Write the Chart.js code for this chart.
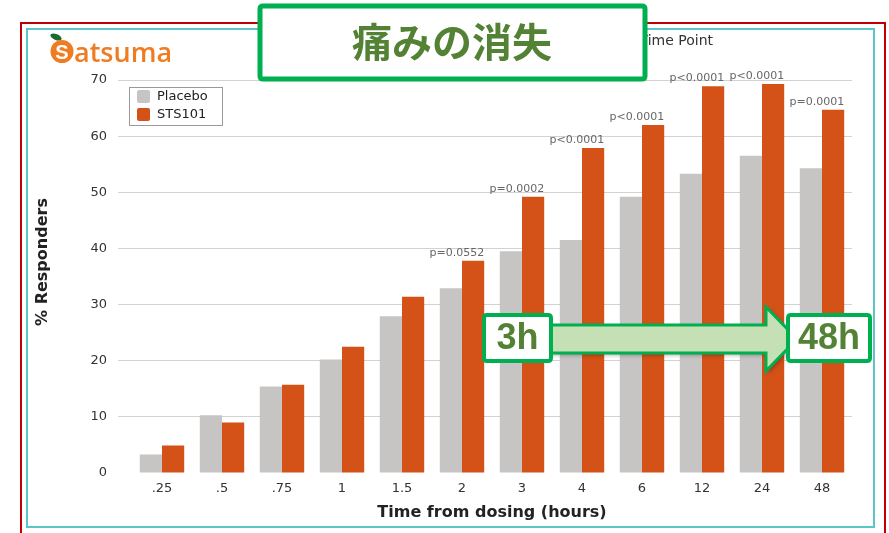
<!DOCTYPE html>
<html lang="ja">
<head>
<meta charset="utf-8">
<title>痛みの消失</title>
<script src="https://cdn.jsdelivr.net/npm/chart.js@4.4.1/dist/chart.umd.min.js"></script>
<style>
  html, body { margin:0; padding:0; background:#ffffff; }
  #wrap { width:889px; height:533px; position:relative; }
</style>
</head>
<body>
<div id="wrap"><canvas id="chart" width="889" height="533"></canvas></div>
<script>
/* =====================================================
   DATA
===================================================== */

const timeLabels = [".25",".5",".75","1","1.5","2","3","4","6","12","24","48"];

const placeboValues = [3.3,10.3,15.4,20.2,27.9,32.9,39.5,41.5,49.2,53.3,56.5,54.3];

const sts101Values = [4.9,9.0,15.7,22.5,31.4,37.8,49.2,57.9,62.0,68.9,69.3,64.7];

const pValues = [
  null,null,null,null,null,
  "p=0.0552","p=0.0002","p<0.0001","p<0.0001",
  "p<0.0001","p<0.0001","p=0.0001"
];

const yTicks = [0,10,20,30,40,50,60,70];

const seriesNames = ["Placebo","STS101"];


/* =====================================================
   COLOURS / FONTS
===================================================== */

const GREY = "#c6c5c4";
const ORANGE = "#d45118";
const GREEN = "#00b050";
const DARK_GREEN = "#548235";
const FONT = "'DejaVu Sans', Verdana, sans-serif";
const BOX_FONT = "'Liberation Sans', Arial, sans-serif";

Chart.defaults.font.family = FONT;
Chart.defaults.color = "#333333";


/* =====================================================
   HELPERS
===================================================== */

function roundBox(ctx, x, y, w, h, r){
  ctx.beginPath();
  ctx.moveTo(x + r, y);
  ctx.lineTo(x + w - r, y);
  ctx.quadraticCurveTo(x + w, y, x + w, y + r);
  ctx.lineTo(x + w, y + h - r);
  ctx.quadraticCurveTo(x + w, y + h, x + w - r, y + h);
  ctx.lineTo(x + r, y + h);
  ctx.quadraticCurveTo(x, y + h, x, y + h - r);
  ctx.lineTo(x, y + r);
  ctx.quadraticCurveTo(x, y, x + r, y);
  ctx.closePath();
}

function labelBox(ctx, x, y, w, h, text, font){
  ctx.save();
  roundBox(ctx, x, y, w, h, 3);
  ctx.fillStyle = "#ffffff";
  ctx.fill();
  ctx.lineWidth = 4;
  ctx.strokeStyle = GREEN;
  ctx.stroke();
  ctx.fillStyle = DARK_GREEN;
  ctx.font = font;
  ctx.textAlign = "center";
  ctx.textBaseline = "middle";
  ctx.fillText(text, x + w / 2, y + h / 2 + 1);
  ctx.restore();
}


/* =====================================================
   SLIDE DECORATION PLUGIN
===================================================== */

const slidePlugin = {
  id: "slide",

  beforeDraw(chart){
    const ctx = chart.ctx;
    ctx.save();
    ctx.fillStyle = "#ffffff";
    ctx.fillRect(0, 0, chart.width, chart.height);
    ctx.lineWidth = 2;
    ctx.strokeStyle = "#c00000";
    ctx.strokeRect(21, 23, 864, 520);
    ctx.strokeStyle = "#5cc6c6";
    ctx.strokeRect(27, 29, 847, 498);
    ctx.restore();
  },

  afterDraw(chart){
    const ctx = chart.ctx;
    const orangeMeta = chart.getDatasetMeta(1);

    ctx.save();

    // p-value labels above the STS101 bars
    ctx.font = "11px " + FONT;
    ctx.fillStyle = "#666666";
    ctx.textAlign = "right";
    ctx.textBaseline = "alphabetic";
    pValues.forEach((txt, i) => {
      if(!txt) return;
      const bar = orangeMeta.data[i];
      ctx.fillText(txt, bar.x + bar.width / 2, bar.y - 5);
    });

    // legend box
    ctx.fillStyle = "#ffffff";
    ctx.fillRect(129.5, 87.5, 93, 38);
    ctx.lineWidth = 1;
    ctx.strokeStyle = "#9a9a9a";
    ctx.strokeRect(129.5, 87.5, 93, 38);
    chart.data.datasets.forEach((ds, i) => {
      const y = 90 + i * 18;
      roundBox(ctx, 137, y, 13, 13, 2);
      ctx.fillStyle = ds.backgroundColor;
      ctx.fill();
      ctx.fillStyle = "#222222";
      ctx.font = "13px " + FONT;
      ctx.textAlign = "left";
      ctx.textBaseline = "middle";
      ctx.fillText(ds.label, 157, y + 7);
    });

    // y axis title
    ctx.save();
    ctx.translate(43, 262);
    ctx.rotate(-Math.PI / 2);
    ctx.font = "bold 16px " + FONT;
    ctx.fillStyle = "#222222";
    ctx.textAlign = "center";
    ctx.textBaseline = "middle";
    ctx.fillText("% Responders", 0, 0);
    ctx.restore();

    // chart title (mostly hidden by the green box)
    ctx.font = "14px " + FONT;
    ctx.fillStyle = "#333333";
    ctx.textAlign = "right";
    ctx.textBaseline = "middle";
    ctx.fillText("% Responders at Each Time Point", 713, 41);

    // Satsuma logo
    ctx.fillStyle = "#1e6b2e";
    ctx.beginPath();
    ctx.ellipse(56, 37, 6, 3, 0.4, 0, Math.PI * 2);
    ctx.fill();
    ctx.fillStyle = "#f07c22";
    ctx.beginPath();
    ctx.arc(62, 51.5, 11.5, 0, Math.PI * 2);
    ctx.fill();
    ctx.fillStyle = "#ffffff";
    ctx.font = "bold 20px " + BOX_FONT;
    ctx.textAlign = "center";
    ctx.textBaseline = "middle";
    ctx.fillText("S", 62, 53);
    ctx.fillStyle = "#f07c22";
    ctx.font = "600 27px 'Open Sans', sans-serif";
    ctx.textAlign = "left";
    ctx.textBaseline = "alphabetic";
    ctx.fillText("atsuma", 74, 62);

    // title box
    roundBox(ctx, 260, 6, 385, 73, 3);
    ctx.fillStyle = "#ffffff";
    ctx.fill();
    ctx.lineWidth = 5;
    ctx.strokeStyle = GREEN;
    ctx.stroke();
    ctx.fillStyle = DARK_GREEN;
    ctx.font = "bold 40px 'Noto Sans CJK JP', sans-serif";
    ctx.textAlign = "center";
    ctx.textBaseline = "middle";
    ctx.fillText("痛みの消失", 452, 42);

    // arrow 3h -> 48h
    ctx.save();
    ctx.shadowColor = "rgba(0,0,0,0.35)";
    ctx.shadowBlur = 4;
    ctx.shadowOffsetX = 2;
    ctx.shadowOffsetY = 2;
    ctx.beginPath();
    ctx.moveTo(545, 325);
    ctx.lineTo(766, 325);
    ctx.lineTo(766, 307);
    ctx.lineTo(797, 339);
    ctx.lineTo(766, 371);
    ctx.lineTo(766, 353);
    ctx.lineTo(545, 353);
    ctx.closePath();
    ctx.fillStyle = "#c5e0b4";
    ctx.fill();
    ctx.restore();
    ctx.lineWidth = 3;
    ctx.strokeStyle = GREEN;
    ctx.stroke();

    labelBox(ctx, 484, 315, 67, 46, "3h", "bold 36px " + BOX_FONT);
    labelBox(ctx, 788, 315, 82, 46, "48h", "bold 36px " + BOX_FONT);

    ctx.restore();
  }
};


/* =====================================================
   CHART
===================================================== */

const ctx = document.getElementById("chart").getContext("2d");

new Chart(ctx, {
  type: "bar",
  data: {
    labels: timeLabels,
    datasets: [
      {
        label: seriesNames[0],
        data: placeboValues,
        backgroundColor: GREY
      },
      {
        label: seriesNames[1],
        data: sts101Values,
        backgroundColor: ORANGE
      }
    ]
  },
  options: {
    responsive: false,
    animation: false,
    layout: {
      padding: { top: 80, right: 37, bottom: 0, left: 0 }
    },
    datasets: {
      bar: {
        categoryPercentage: 0.74,
        barPercentage: 1.0
      }
    },
    plugins: {
      legend: { display: false },
      tooltip: { enabled: false }
    },
    scales: {
      x: {
        grid: { display: false, drawTicks: false },
        border: { display: false },
        ticks: {
          padding: 8,
          color: "#333333",
          font: { size: 13 }
        },
        title: {
          display: true,
          text: "Time from dosing (hours)",
          color: "#222222",
          font: { size: 16, weight: "bold" },
          padding: { top: 0, bottom: 11 }
        },
        afterFit(scale){ scale.height = 60; }
      },
      y: {
        min: 0,
        max: 70,
        afterBuildTicks(scale){
          scale.ticks = yTicks.map(v => ({ value: v }));
        },
        grid: {
          color: c => c.tick && c.tick.value === 0 ? "rgba(0,0,0,0)" : "#d2d2d2",
          tickLength: 14
        },
        border: { display: false },
        ticks: {
          padding: 11,
          color: "#333333",
          font: { size: 13 }
        },
        afterFit(scale){ scale.width = 132; }
      }
    }
  },
  plugins: [slidePlugin]
});
</script>
</body>
</html>
